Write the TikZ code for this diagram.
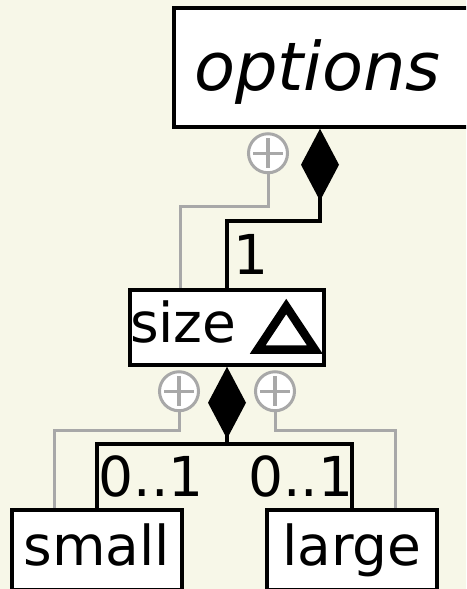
\documentclass[tikz,border=0pt]{standalone}
\usepackage{fontspec}
\setmainfont{DejaVu Sans}
\usetikzlibrary{arrows.meta}
\definecolor{canvas}{RGB}{247,247,232}
\definecolor{nestgray}{RGB}{168,168,168}
\newcommand{\boxfont}{\fontsize{55}{66}\selectfont}
\newcommand{\titlefont}{\fontsize{67}{80}\selectfont\itshape}
\tikzset{umlbox/.style={draw, fill=white, line width=3.5pt, inner sep=0pt, font=\boxfont, text height=45pt, text depth=15pt}}
\tikzset{link/.style={line width=3.5pt}}
\tikzset{composite/.style={link, arrows={Diamond[length=72pt, width=38pt, line width=0pt]-}}}
\tikzset{nestlink/.style={draw=nestgray, line width=3pt}}
\tikzset{nesting/.style={circle, draw=nestgray, fill=white, line width=3pt, minimum size=39pt, inner sep=0pt,
    path picture={\draw[nestgray, line width=3.5pt] ([xshift=4.5pt]path picture bounding box.west) -- ([xshift=-4.5pt]path picture bounding box.east)
      ([yshift=-4.5pt]path picture bounding box.north) -- ([yshift=4.5pt]path picture bounding box.south);}}}
\tikzset{mult/.style={font=\boxfont, inner sep=0pt}}

\begin{document}
\begin{tikzpicture}[x=1pt, y=-1pt]
  \fill[canvas] (0,0) rectangle (466,589);
  \useasboundingbox (0,0) rectangle (466,589);
  \clip (0,0) rectangle (466,589);
  % classes
  \node[umlbox, font=\titlefont, minimum width=306pt, minimum height=119pt, text width=266pt, align=left, inner xsep=20pt, text height=55pt, text depth=10pt] (options) at (327,67.5) {options};
  \node[umlbox, minimum width=194pt, minimum height=75pt, text width=194pt, align=left] (size) at (227,327.5) {size};
  \node[umlbox, minimum width=170pt, minimum height=80pt] (small) at (97,550) {small};
  \node[umlbox, minimum width=170pt, minimum height=80pt] (large) at (352,550) {large};
  % abstract marker
  \draw[line width=8.5pt, line join=miter] ([shift={(-68,22)}]size.east) -- ++(57,0) -- ++(-28.5,-43) -- cycle;
  % composition
  \draw[composite] ([xshift=-7pt]options.south) -- ++(0,92) -| node[mult, pos=0.75, right, xshift=5pt] {1} (size.north);
  \draw[composite] (size.south) -- ++(0,77) coordinate (fork);
  \draw[link] (fork) -| node[mult, pos=0.75, right] {0..1} (small.north);
  \draw[link] (fork) -| node[mult, pos=0.75, left, xshift=3pt] {0..1} (large.north);
  % nesting
  \node[nesting, anchor=north] (optnest) at ([xshift=-59pt, yshift=-3.5pt]options.south) {};
  \node[nesting, anchor=north] (smallnest) at ([xshift=-48pt, yshift=-3.5pt]size.south) {};
  \node[nesting, anchor=north] (largenest) at ([xshift=48pt, yshift=-3.5pt]size.south) {};
  \draw[nestlink] (optnest.south) -- ++(0,32.5) -| ([xshift=-47pt]size.north);
  \draw[nestlink] (smallnest.south) -- ++(0,18.5) -| ([xshift=-43pt]small.north);
  \draw[nestlink] (largenest.south) -- ++(0,18.5) -| ([xshift=43pt]large.north);
\end{tikzpicture}
\end{document}
